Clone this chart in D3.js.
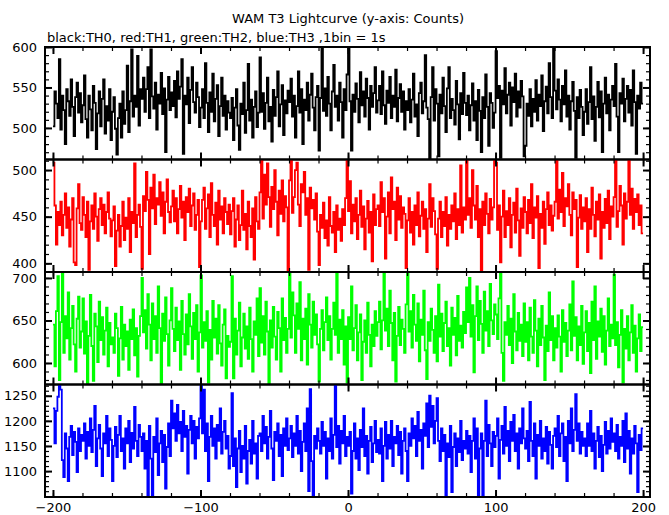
<!DOCTYPE html>
<html><head><meta charset="utf-8">
<script src="https://cdn.jsdelivr.net/npm/d3@7/dist/d3.min.js"></script>
<style>
body{margin:0;background:#fff}
svg{display:block}
text{font-family:"DejaVu Sans",sans-serif;font-size:13px;fill:#000}
</style>
</head><body>
<svg id="c" width="669" height="515"></svg>
<script>
// ---------------- DATA ----------------
const title = "WAM T3 Lightcurve (y-axis: Counts)";
const subtitle = "black:TH0, red:TH1, green:TH2, blue:TH3 ,1bin = 1s";
const binStart = -200;   // time of first bin (s)
const binWidth = 1;      // 1 bin = 1 s
const seriesNames = ["TH0", "TH1", "TH2", "TH3"];

const th0 = [
502,545,530,512,585,498,540,522,480,548,533,515,560,526,490,538,556,519,543,507,
528,565,511,488,540,523,497,552,531,474,518,545,502,536,560,493,527,509,548,485,
520,538,499,467,512,530,488,545,505,522,577,495,533,597,514,540,526,589,503,548,
536,562,520,548,575,512,597,539,524,556,498,541,530,568,517,549,470,535,563,522,
544,527,558,513,570,536,551,585,468,540,529,562,506,547,575,532,519,556,538,501,
525,548,512,580,531,495,544,520,567,508,536,553,490,527,562,515,540,498,533,519,
512,537,485,525,548,503,473,530,517,556,494,522,579,509,535,488,526,545,501,519,
587,520,543,499,531,562,508,526,483,547,515,538,570,502,529,553,491,534,518,546,
532,561,514,540,488,527,570,519,548,480,535,522,556,509,541,567,525,497,538,552,
472,537,600,521,549,515,563,530,497,545,578,526,540,509,556,532,488,548,522,566,
598,533,472,541,520,555,536,507,569,528,545,514,561,537,498,552,526,543,575,519,
534,552,517,570,528,505,546,531,563,512,540,526,572,508,537,554,520,545,498,533,
522,548,507,535,567,514,529,490,543,556,518,533,590,525,511,462,538,575,509,548,
530,465,541,518,562,527,495,549,575,512,536,522,504,558,529,486,543,517,568,531,
516,540,497,528,555,509,533,485,547,521,470,538,512,566,526,478,543,531,500,519,
595,537,552,463,546,529,574,518,541,556,503,550,532,567,514,545,525,558,539,465,
478,530,515,548,502,536,520,559,509,541,527,565,496,533,551,518,580,538,512,600,
546,523,560,535,508,552,529,571,514,540,498,533,557,521,463,538,512,547,526,491,
520,548,505,532,575,511,539,484,526,557,513,545,470,530,562,518,541,497,535,552,
527,579,514,470,543,530,561,508,536,552,519,547,503,571,532,468,540,524,556,530
];
const th1 = [
508,462,420,455,441,466,430,452,475,438,460,418,447,470,401,398,459,485,443,436,
471,452,428,466,393,445,462,437,475,450,424,458,470,441,463,432,455,476,448,429,
446,461,397,435,452,418,440,466,425,449,437,470,412,455,443,507,428,452,463,439,
394,472,456,498,468,410,481,459,495,442,470,463,487,451,476,432,466,490,455,444,
461,478,445,470,432,458,483,449,466,425,471,455,480,440,462,475,436,452,468,396,
445,468,481,437,459,474,428,486,452,440,465,420,478,447,461,432,470,455,442,463,
431,456,470,418,447,462,425,441,478,436,453,415,466,440,428,459,404,471,445,437,
476,510,448,495,463,507,471,439,482,458,500,466,430,478,453,489,445,472,460,392,
489,510,454,471,500,508,463,440,485,476,498,452,470,393,481,459,468,447,475,434,
398,452,438,465,427,446,419,471,440,433,455,412,462,436,448,424,458,441,470,510,
456,488,432,463,445,470,426,452,478,439,461,415,448,467,433,455,402,474,441,458,
462,440,487,455,470,405,450,476,432,492,458,466,425,481,447,472,438,460,453,395,
446,470,433,455,420,462,441,476,429,451,466,437,458,412,448,485,439,470,456,431,
394,448,466,428,455,440,471,419,452,437,462,445,475,426,458,441,505,433,460,447,
511,452,470,438,500,462,447,483,428,458,391,466,441,475,453,432,469,447,460,511,
508,436,462,401,450,478,428,456,441,470,417,452,465,433,480,446,408,459,438,471,
455,432,468,443,485,427,460,449,472,395,453,438,466,421,458,476,441,462,435,451,
466,510,448,479,455,497,440,470,461,485,452,430,476,458,468,396,449,473,437,460,
445,470,412,458,437,481,452,429,466,447,474,405,455,438,469,443,478,426,461,450,
471,510,439,456,483,462,420,475,448,466,510,452,480,437,469,455,474,441,462,432
];
const th2 = [
645,596,661,702,580,648,706,612,655,629,683,604,641,667,622,590,652,678,618,637,
676,611,649,575,632,680,620,579,658,643,601,672,627,654,610,638,665,596,647,622,
630,612,658,641,585,629,666,604,645,620,637,592,651,628,663,609,641,584,632,655,
700,636,662,617,681,645,603,670,628,655,612,690,641,575,658,626,677,634,597,650,
688,640,614,665,627,649,592,673,634,610,657,622,681,643,605,659,628,668,590,636,
703,618,648,626,661,577,639,604,673,630,652,611,668,623,597,645,663,582,632,619,
625,702,582,652,610,638,671,596,630,658,617,643,605,665,628,590,649,633,676,608,
688,624,655,610,672,637,576,650,618,666,631,604,660,641,590,676,627,653,612,640,
705,630,683,656,612,670,640,695,603,652,628,664,598,681,645,618,672,633,657,622,
578,640,662,615,648,677,627,655,604,640,671,633,705,612,651,628,662,598,643,577,
654,628,690,615,641,668,603,636,657,580,625,650,612,671,633,596,645,620,661,632,
648,672,616,650,705,638,664,620,685,647,603,659,578,632,666,621,651,640,612,669,
706,637,661,618,680,645,626,670,602,651,633,685,615,581,648,626,664,639,612,655,
602,692,631,658,614,647,672,620,641,597,665,633,653,609,679,626,644,618,660,635,
689,648,700,631,668,589,655,690,627,673,646,612,684,638,661,620,693,650,634,669,
657,628,676,705,612,579,648,633,667,621,652,600,681,637,615,659,626,645,608,670,
625,648,603,665,631,612,674,638,596,652,621,667,630,580,644,614,683,627,655,603,
641,618,656,631,590,662,625,647,608,638,669,615,696,632,654,603,643,621,667,599,
636,661,614,647,588,672,627,690,605,649,631,664,613,655,598,638,676,620,645,629,
704,621,648,595,633,662,577,640,617,655,603,636,668,612,644,590,629,657,614,642
];
const th3 = [
1225,1155,1220,1248,1270,1262,1122,1088,1175,1145,1080,1168,1190,1132,1178,1158,1098,1185,1140,1172,
1160,1195,1125,1178,1150,1205,1138,1182,1230,1110,1165,1192,1145,1090,1175,1155,1210,1130,1185,1162,
1080,1150,1188,1128,1172,1210,1140,1165,1105,1185,1155,1200,1118,1176,1145,1228,1160,1130,1192,1168,
1140,1175,1105,1160,1045,1190,1125,1050,1168,1138,1205,1092,1155,1180,1118,1172,1065,1148,1195,1130,
1240,1185,1215,1160,1232,1175,1198,1140,1220,1168,1190,1095,1182,1210,1155,1200,1125,1188,1165,1205,
1270,1175,1262,1140,1195,1080,1168,1210,1150,1185,1125,1192,1160,1225,1135,1178,1200,1145,1170,1105,
1130,1255,1110,1165,1068,1145,1180,1098,1150,1125,1190,1075,1140,1162,1115,1200,1135,1155,1085,1170,
1175,1140,1210,1155,1188,1125,1168,1220,1145,1082,1178,1160,1195,1130,1172,1090,1185,1150,1205,1142,
1165,1190,1128,1175,1150,1210,1135,1180,1100,1158,1195,1140,1225,1060,1263,1120,1048,1170,1145,1185,
1160,1135,1198,1150,1178,1085,1165,1140,1205,1125,1172,1270,1148,1190,1115,1180,1155,1210,1130,1168,
1150,1178,1055,1140,1195,1125,1165,1102,1182,1148,1225,1130,1170,1095,1160,1188,1118,1155,1200,1138,
1162,1135,1185,1080,1150,1198,1125,1172,1145,1200,1110,1168,1155,1190,1132,1178,1095,1160,1185,1140,
1080,1175,1150,1205,1165,1190,1130,1218,1160,1182,1105,1195,1170,1235,1148,1250,1188,1230,1155,1200,
1245,1160,1120,1185,1140,1172,1050,1155,1128,1190,1058,1148,1175,1110,1165,1138,1200,1122,1160,1145,
1180,1135,1170,1098,1160,1205,1125,1185,1050,1145,1175,1052,1160,1240,1130,1192,1155,1110,1178,1148,
1170,1205,1085,1162,1190,1135,1228,1150,1180,1120,1198,1160,1212,1140,1175,1105,1185,1155,1225,1165,
1145,1180,1120,1238,1160,1130,1195,1085,1172,1150,1200,1125,1165,1140,1188,1115,1178,1152,1105,1170,
1185,1148,1210,1130,1175,1195,1120,1168,1080,1200,1155,1225,1140,1182,1253,1160,1195,1135,1178,1150,
1165,1130,1195,1150,1220,1140,1175,1105,1160,1188,1128,1170,1100,1152,1198,1135,1180,1145,1205,1158,
1175,1140,1192,1125,1168,1150,1200,1118,1215,1145,1180,1095,1165,1135,1190,1155,1058,1172,1142,1185
];

const xTickLabels = [-200, -100, 0, 100, 200];
const yTickLabels0 = [500, 550, 600];
const yTickLabels1 = [400, 450, 500];
const yTickLabels2 = [600, 650, 700];
const yTickLabels3 = [1100, 1150, 1200, 1250];

// ---------------- LAYOUT / STYLE ----------------
const svg = d3.select("#c");
const L = 45, R = 650;
const panelTops = [47, 159.5, 272, 384.5];
const panelH = 112.5;
const panels = [
  {data: th0, color: "#000000", domain: [461, 600],     ticks: yTickLabels0},
  {data: th1, color: "#ff0000", domain: [390.7, 511.3], ticks: yTickLabels1},
  {data: th2, color: "#00ff00", domain: [574.7, 707],   ticks: yTickLabels2},
  {data: th3, color: "#0000ff", domain: [1048.4, 1272.4], ticks: yTickLabels3}
];

const x = d3.scaleLinear().domain([-205.4, 204.7]).range([L, R]);
const xMinor = d3.range(-200, 201, 20);

svg.append("text").attr("x", 348).attr("y", 23).attr("text-anchor", "middle").text(title);
svg.append("text").attr("x", 47).attr("y", 42).text(subtitle);

const defs = svg.append("defs");

panels.forEach((p, i) => {
  const top = panelTops[i], bot = top + panelH;
  const y = d3.scaleLinear().domain(p.domain).range([bot, top]);
  const g = svg.append("g");

  defs.append("clipPath").attr("id", "clip" + i)
    .append("rect").attr("x", L).attr("y", top).attr("width", R - L).attr("height", panelH);

  // step histogram
  const pts = p.data.map((v, k) => [binStart + k * binWidth, v]);
  pts.push([binStart + p.data.length * binWidth, p.data[p.data.length - 1]]);
  const line = d3.line().x(d => x(d[0])).y(d => y(d[1])).curve(d3.curveStepAfter);
  g.append("path").attr("clip-path", "url(#clip" + i + ")")
    .attr("d", line(pts)).attr("fill", "none").attr("stroke", p.color)
    .attr("stroke-width", 1.8).attr("stroke-linejoin", "miter");

  const yMinor = d3.range(Math.ceil(p.domain[0] / 10) * 10, p.domain[1] + 0.01, 10);

  function axisG(axis, tx, ty, sw) {
    const a = g.append("g").attr("transform", `translate(${tx},${ty})`).call(axis);
    a.select(".domain").remove();
    a.selectAll(".tick line").attr("stroke", "#000").attr("stroke-width", sw);
    a.selectAll("text").attr("font-size", null).attr("font-family", null).attr("fill", "#000");
    return a;
  }
  // x ticks top & bottom
  axisG(d3.axisBottom(x).tickValues(xMinor).tickSize(-4).tickFormat(""), 0, bot, 1.2);
  axisG(d3.axisTop(x).tickValues(xMinor).tickSize(-4).tickFormat(""), 0, top, 1.2);
  axisG(d3.axisBottom(x).tickValues(xTickLabels).tickSize(-7)
        .tickFormat(i === 3 ? d3.format("d") : "").tickPadding(6), 0, bot, 2);
  axisG(d3.axisTop(x).tickValues(xTickLabels).tickSize(-7).tickFormat(""), 0, top, 2);

  // y ticks left & right
  axisG(d3.axisLeft(y).tickValues(yMinor).tickSize(-4).tickFormat(""), L, 0, 1.2);
  axisG(d3.axisRight(y).tickValues(yMinor).tickSize(-4).tickFormat(""), R, 0, 1.2);
  axisG(d3.axisLeft(y).tickValues(p.ticks).tickSize(-7).tickFormat(d3.format("d")).tickPadding(8), L, 0, 2);
  axisG(d3.axisRight(y).tickValues(p.ticks).tickSize(-7).tickFormat(""), R, 0, 2);

  // frame
  g.append("rect").attr("x", L).attr("y", top).attr("width", R - L).attr("height", panelH)
    .attr("fill", "none").attr("stroke", "#000").attr("stroke-width", 2);
});
</script>
</body></html>
